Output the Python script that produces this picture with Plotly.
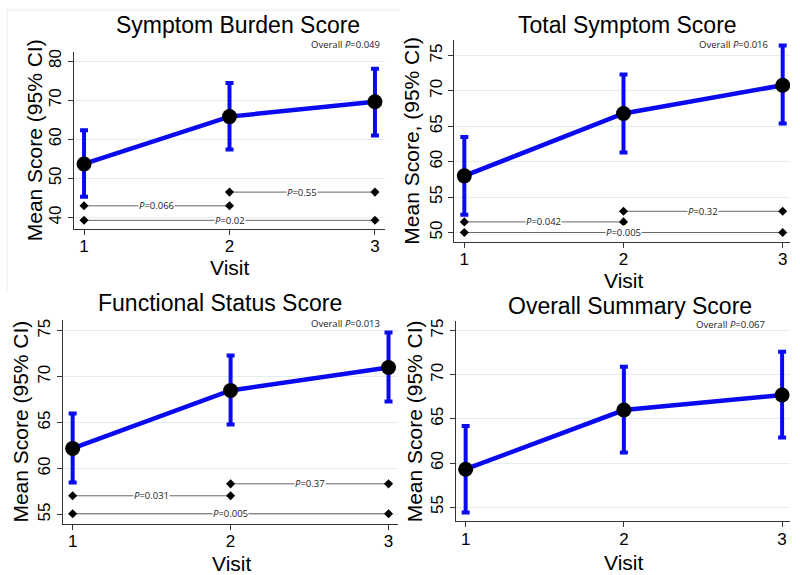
import plotly.graph_objects as go

W, H = 800, 575

visits = [1, 2, 3]
tick_visits = ["1", "2", "3"]

titles = ["Symptom Burden Score", "Total Symptom Score",
          "Functional Status Score", "Overall Summary Score"]
ytitles = ["Mean Score (95% CI)", "Mean Score, (95% CI)",
           "Mean Score (95% CI)", "Mean Score (95% CI)"]
overall_p = ["0.049", "0.016", "0.013", "0.067"]

# means and 95% CI
mean_sbs = [53.7, 65.8, 69.6]
upper_sbs = [62.3, 74.4, 78.0]
lower_sbs = [45.3, 57.4, 61.0]

mean_tss = [58.0, 66.8, 70.8]
upper_tss = [63.5, 72.3, 76.4]
lower_tss = [52.5, 61.3, 65.4]

mean_fss = [62.2, 68.5, 71.0]
upper_fss = [66.0, 72.3, 74.8]
lower_fss = [58.5, 64.8, 67.3]

mean_oss = [59.3, 66.0, 67.7]
upper_oss = [64.2, 70.9, 72.6]
lower_oss = [54.4, 61.2, 62.9]

# pairwise p-value brackets: (from visit, to visit, y level, p label)
brackets_sbs = [(1, 3, 39.3, "0.02"), (1, 2, 43.0, "0.066"), (2, 3, 46.5, "0.55")]
brackets_tss = [(1, 3, 50.0, "0.005"), (1, 2, 51.5, "0.042"), (2, 3, 53.0, "0.32")]
brackets_fss = [(1, 3, 55.1, "0.005"), (1, 2, 57.05, "0.031"), (2, 3, 58.35, "0.37")]
brackets_oss = []

means = [mean_sbs, mean_tss, mean_fss, mean_oss]
uppers = [upper_sbs, upper_tss, upper_fss, upper_oss]
lowers = [lower_sbs, lower_tss, lower_fss, lower_oss]
brackets = [brackets_sbs, brackets_tss, brackets_fss, brackets_oss]

# layout (pixel boxes of plot areas: left, right, top, bottom)
boxes = [(74, 385, 49.3, 226.7), (454.3, 790, 36.7, 240),
         (62.7, 398, 318.3, 523.3), (456, 790, 320, 521)]
xranges = [[0.931, 3.069], [0.937, 3.046], [0.937, 3.06], [0.939, 3.05]]
yranges = [[37.2, 82.3], [48.7, 77.25], [54.03, 76.2], [53.4, 76.05]]
dticks = [10, 5, 5, 5]
title_pos = [(238, 22), (627, 22), (220, 302), (630, 305)]
ytitle_x = [34, 412, 21, 414]
visit_pos = [(230, 266), (623, 279), (232, 563), (623, 562)]
overall_pos = [(345, 42), (733, 42), (345, 322), (730, 323)]

def px(x):
    return x / W

def py(y):
    return 1 - y / H

fig = go.Figure()
annotations = []
shapes = []

for i in range(4):
    n = "" if i == 0 else str(i + 1)
    xa, ya = "x" + n, "y" + n
    l, r, t, b = boxes[i]
    fig.update_layout(**{
        "xaxis" + n: dict(domain=[px(l), px(r)], range=xranges[i], anchor=ya,
                          tickmode="array", tickvals=visits, ticktext=tick_visits,
                          showgrid=False, zeroline=False, showline=True,
                          linecolor="#333333", linewidth=1, ticks="outside",
                          ticklen=5, tickcolor="#333333", ticklabelstandoff=-3,
                          tickfont=dict(family="Liberation Sans", size=17, color="black")),
        "yaxis" + n: dict(domain=[py(b), py(t)], range=yranges[i], anchor=xa,
                          dtick=dticks[i], tick0=0, showgrid=True,
                          gridcolor="#e2eded", gridwidth=1, zeroline=False,
                          showline=True, linecolor="#333333", linewidth=1,
                          ticks="outside", ticklen=5, tickcolor="#333333",
                          tickangle=-90,
                          tickfont=dict(family="Liberation Sans", size=17, color="black")),
    })

    # brackets
    for (a, c, yv, p) in brackets[i]:
        fig.add_trace(go.Scatter(
            x=[a, c], y=[yv, yv], xaxis=xa, yaxis=ya, mode="lines+markers",
            line=dict(color="#666666", width=1),
            marker=dict(symbol="diamond", size=7, color="black"),
            showlegend=False, hoverinfo="skip"))
        annotations.append(dict(
            x=(a + c) / 2, y=yv, xref=xa, yref=ya, showarrow=False,
            text="<i>P</i>=" + p, bgcolor="white", borderpad=0,
            font=dict(family="Open Sans", size=9.5, color="#222222"),
            xanchor="center", yanchor="middle"))

    m, u, lo = means[i], uppers[i], lowers[i]
    fig.add_trace(go.Scatter(
        x=visits, y=m, xaxis=xa, yaxis=ya, mode="lines+markers",
        line=dict(color="#0a0af0", width=4.5),
        marker=dict(color="black", size=15),
        error_y=dict(type="data", symmetric=False,
                     array=[uu - mm for uu, mm in zip(u, m)],
                     arrayminus=[mm - ll for mm, ll in zip(m, lo)],
                     color="#0a0af0", thickness=4, width=4),
        showlegend=False, hoverinfo="skip"))

    tx, ty = title_pos[i]
    annotations.append(dict(x=px(tx), y=py(ty), xref="paper", yref="paper",
                            text=titles[i], showarrow=False,
                            font=dict(family="Liberation Sans", size=23, color="black"),
                            xanchor="center", yanchor="middle"))
    annotations.append(dict(x=px(ytitle_x[i]), y=py((t + b) / 2), xref="paper", yref="paper",
                            text=ytitles[i], showarrow=False, textangle=-90,
                            font=dict(family="Liberation Sans", size=21, color="black"),
                            xanchor="center", yanchor="middle"))
    vx, vy = visit_pos[i]
    annotations.append(dict(x=px(vx), y=py(vy), xref="paper", yref="paper",
                            text="Visit", showarrow=False,
                            font=dict(family="Liberation Sans", size=21, color="black"),
                            xanchor="center", yanchor="middle"))
    ox, oy = overall_pos[i]
    annotations.append(dict(x=px(ox), y=py(oy), xref="paper", yref="paper",
                            text="Overall <i>P</i>=" + overall_p[i], showarrow=False,
                            font=dict(family="Open Sans", size=9.5, color="#222222"),
                            xanchor="center", yanchor="middle"))

# faint frame around the first panel
shapes.append(dict(type="line", xref="paper", yref="paper",
                   x0=px(7), x1=px(7), y0=py(7), y1=py(290),
                   line=dict(color="#ececec", width=1)))
shapes.append(dict(type="line", xref="paper", yref="paper",
                   x0=px(7), x1=px(400), y0=py(7), y1=py(7),
                   line=dict(color="#ececec", width=1)))

fig.update_layout(width=W, height=H, margin=dict(l=0, r=0, t=0, b=0),
                  paper_bgcolor="white", plot_bgcolor="white",
                  annotations=annotations, shapes=shapes, showlegend=False)

fig.write_html("out.html", config={"displayModeBar": False},
               post_script="document.body.style.margin='0px';document.body.style.overflow='hidden';")
